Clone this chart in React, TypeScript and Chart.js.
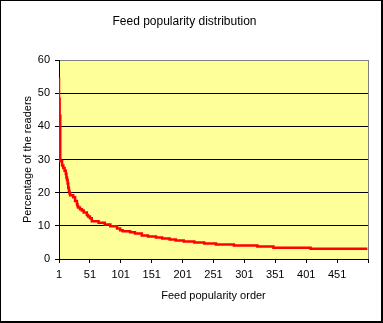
import React, { useEffect, useRef } from "react";
import { Chart, registerables } from "chart.js";

Chart.register(...registerables);

// Popularity rank where each step starts, and the percentage of readers from that rank on
const ranks = [1, 2, 3, 6, 8, 10, 12, 13, 14, 15, 16, 17, 18, 19, 24, 27, 30, 31, 32, 35, 38, 41, 46, 48, 51, 54, 65, 75, 84, 95, 100, 104, 116, 124, 135, 145, 158, 168, 180, 190, 203, 220, 236, 255, 284, 322, 348, 408, 448, 500];
const percents = [54.7, 48.3, 43.2, 29.5, 28.2, 27.4, 26.6, 25.6, 24.6, 23.8, 22.8, 21.5, 20.5, 19.8, 19.2, 18.6, 17.5, 16.5, 15.9, 15.5, 15.0, 14.6, 14.0, 13.3, 12.8, 12.3, 11.4, 10.9, 10.4, 9.9, 9.2, 8.7, 8.4, 8.1, 7.7, 7.1, 6.8, 6.45, 6.15, 5.85, 5.55, 5.25, 5.0, 4.7, 4.4, 4.05, 3.75, 3.4, 3.1, 3.1];

const xTickValues = [1, 51, 101, 151, 201, 251, 301, 351, 401, 451, 501];
const xTickLabels = ["1", "51", "101", "151", "201", "251", "301", "351", "401", "451", ""];

const titleText = "Feed popularity distribution";
const xTitle = "Feed popularity order";
const yTitle = "Percentage of the readers";

const FONT = 'Arial, "Liberation Sans", sans-serif';

const plotFrame = {
  id: "plotFrame",
  beforeDraw(chart: any) {
    const { ctx, chartArea: a } = chart;
    ctx.save();
    ctx.fillStyle = "#FFFF99";
    ctx.fillRect(a.left, a.top, a.right - a.left, a.bottom - a.top);
    ctx.restore();
  },
  afterDraw(chart: any) {
    const { ctx, chartArea: a } = chart;
    ctx.save();
    ctx.strokeStyle = "#808080";
    ctx.lineWidth = 1;
    ctx.beginPath();
    ctx.moveTo(Math.round(a.right) + 0.5, a.top);
    ctx.lineTo(Math.round(a.right) + 0.5, a.bottom);
    ctx.stroke();
    ctx.restore();
  },
};

export default function App() {
  const canvasRef = useRef<HTMLCanvasElement | null>(null);

  useEffect(() => {
    document.body.style.margin = "0";
    const canvas = canvasRef.current;
    if (!canvas) return;
    const points = ranks.map((r, i) => ({ x: r, y: percents[i] }));
    const chart = new Chart(canvas, {
      type: "line",
      data: {
        datasets: [
          {
            data: points,
            borderColor: "#FF0000",
            borderWidth: 2.5,
            pointRadius: 0,
            stepped: "after",
            fill: false,
          },
        ],
      },
      plugins: [plotFrame],
      options: {
        responsive: false,
        animation: false,
        devicePixelRatio: 1,
        color: "#000",
        layout: { padding: { left: 0, right: 13, top: 0, bottom: 0 } },
        plugins: {
          legend: { display: false },
          tooltip: { enabled: false },
          title: {
            display: true,
            text: titleText,
            color: "#000",
            font: { family: FONT, size: 12, weight: "normal" },
            padding: { top: 13.5, bottom: 31.1 },
          },
        },
        scales: {
          x: {
            type: "linear",
            min: 1,
            max: 501,
            afterBuildTicks(scale: any) {
              scale.ticks = xTickValues.map((v) => ({ value: v }));
            },
            afterFit(scale: any) {
              scale.height = 62;
            },
            ticks: {
              color: "#000",
              font: { family: FONT, size: 11 },
              padding: 5,
              maxRotation: 0,
              autoSkip: false,
              callback: (v: any) => {
                const i = xTickValues.indexOf(Number(v));
                return i >= 0 ? xTickLabels[i] : "";
              },
            },
            grid: {
              display: true,
              drawOnChartArea: false,
              drawTicks: true,
              tickLength: 4,
              color: "#000",
              tickColor: "#000",
            },
            border: { display: true, color: "#000", width: 1 },
            title: {
              display: true,
              text: xTitle,
              color: "#000",
              font: { family: FONT, size: 11 },
              padding: { top: 0, bottom: 18.4 },
            },
          },
          y: {
            type: "linear",
            min: 0,
            max: 60,
            afterFit(scale: any) {
              scale.width = 58;
            },
            ticks: {
              stepSize: 10,
              color: "#000",
              font: { family: FONT, size: 11 },
              padding: 5,
            },
            grid: {
              display: true,
              drawOnChartArea: true,
              drawTicks: true,
              tickLength: 4,
              color: (ctx: any) => (ctx.tick && ctx.tick.value === 60 ? "#808080" : "#000"),
              tickColor: "#000",
            },
            border: { display: true, color: "#000", width: 1 },
            title: {
              display: true,
              text: yTitle,
              color: "#000",
              font: { family: FONT, size: 11 },
              padding: { top: 20, bottom: 0 },
            },
          },
        },
      },
    } as any);
    return () => chart.destroy();
  }, []);

  return (
    <div
      style={{
        position: "relative",
        width: 383,
        height: 323,
        boxSizing: "border-box",
        borderTop: "1px solid #000",
        borderLeft: "1px solid #000",
        borderRight: "2px solid #000",
        borderBottom: "2px solid #000",
        background: "#fff",
      }}
    >
      <canvas ref={canvasRef} width={380} height={320} style={{ display: "block", width: 380, height: 320 }} />
    </div>
  );
}
